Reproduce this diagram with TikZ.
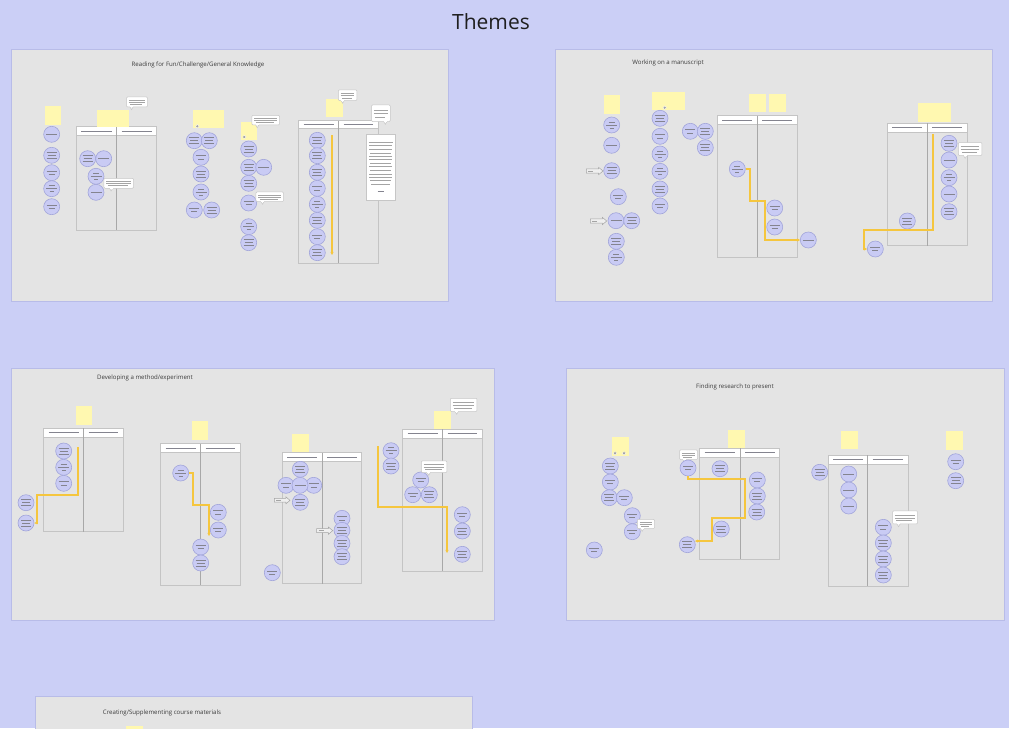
\documentclass[tikz,border=0pt]{standalone}
\usepackage{fontspec}
\setmainfont{Open Sans}
\usetikzlibrary{arrows.meta}
\definecolor{bg}{HTML}{CBCFF6}
\definecolor{pan}{HTML}{E4E4E4}
\definecolor{panb}{HTML}{B8BCE8}
\definecolor{cfill}{HTML}{C9CBF4}
\definecolor{cbord}{HTML}{A2A5DA}
\definecolor{tline}{HTML}{84848F}
\definecolor{lline}{HTML}{A4A4A4}
\definecolor{stk}{HTML}{FFF8B0}
\definecolor{tbb}{HTML}{C4C4C4}
\definecolor{tdiv}{HTML}{A8A8A8}
\definecolor{ylw}{HTML}{F5C63E}
\definecolor{bubb}{HTML}{C6C6C6}
\definecolor{ttl}{HTML}{3A3A3A}
\tikzset{
  cir/.style={circle, minimum size=16pt, inner sep=0pt, fill=cfill, draw=cbord, line width=0.6pt},
  tl/.style={draw=tline, line width=0.75pt},
  bl/.style={draw=lline, line width=0.7pt},
  stkn/.style={fill=stk, draw=none, inner sep=0pt},
  bubn/.style={fill=white, draw=bubb, line width=0.5pt, rounded corners=1pt, inner sep=0pt},
  docn/.style={fill=white, draw=bubb, line width=0.6pt, inner sep=0pt},
  panel/.style={fill=pan, draw=panb, line width=0.9pt, inner sep=0pt},
  ptitle/.style={font=\fontsize{6.1}{7}\selectfont, text=ttl, inner sep=0pt},
  yc/.style={draw=ylw, line width=1.12pt, -{Stealth[length=3pt,width=3pt]}},
  icn/.style={circle, fill=lline, draw=white, line width=0.3pt, minimum size=3.6pt, inner sep=0pt},
  arw/.style={fill=pan!60!white, draw=lline, line width=0.5pt},
}
\newcommand\Cir[4]{%
  \node[cir] (#1) at (#2,#3) {};
  \begin{scope}[shift={(#2,#3)}]
  \ifcase#4\relax
    \draw[tl] (-5,-1.5)--(5,-1.5); \draw[tl] (-3,1.8)--(3,1.8);
  \or
    \draw[tl] (-5,-3)--(5,-3); \draw[tl] (-4,0)--(4,0); \draw[tl] (-5,3)--(5,3);
  \or
    \draw[tl] (-5.5,0)--(5.5,0);
  \or
    \draw[tl] (-3,-3)--(3,-3); \draw[tl] (-5.5,0)--(5.5,0); \draw[tl] (-2,3)--(2,3);
  \fi
  \end{scope}}
\newcommand\Stk[5]{%
  \node[stkn, anchor=north west, minimum width={#4pt-#2pt}, minimum height={#5pt-#3pt}] (#1) at (#2,#3) {};}
\newcommand\Tbl[7]{%
  \draw[draw=tbb, line width=1pt] (#2,#3) rectangle (#4,#5);
  \filldraw[fill=white, draw=tbb, line width=0.6pt] (#2,#3) rectangle (#4,#6);
  \draw[draw=tdiv, line width=0.8pt] (#7,#3) -- (#7,#5);
  \draw[tl] ({#2+5},{(#3+#6)/2}) -- ({#7-5},{(#3+#6)/2});
  \draw[tl] ({#7+5},{(#3+#6)/2}) -- ({#4-5},{(#3+#6)/2});
  \coordinate (#1) at ({(#2+#4)/2},{(#3+#5)/2});}
\newcommand\Bub[6]{%
  \pgfmathsetmacro\bx{#2+(#4-#2)*#6}%
  \filldraw[fill=white, draw=bubb, line width=0.5pt] ({\bx-2},{#5-0.5}) -- (\bx,{#5+3}) -- ({\bx+2},{#5-0.5});
  \node[bubn, anchor=north west, minimum width={#4pt-#2pt}, minimum height={#5pt-#3pt}] (#1) at (#2,#3) {};
  \draw[white, line width=0.8pt] ({\bx-1.5},#5) -- ({\bx+1.5},#5);
  \draw[bl] ({#2+2.5},{#3+(#5-#3)*0.33}) -- ({#4-2.5},{#3+(#5-#3)*0.33});
  \draw[bl] ({#2+2.5},{#3+(#5-#3)*0.55}) -- ({#4-2.5},{#3+(#5-#3)*0.55});
  \draw[bl] ({#2+4},{#3+(#5-#3)*0.77}) -- ({#4-5},{#3+(#5-#3)*0.77});}
\newcommand\Arw[5]{%
  \pgfmathsetmacro\am{(#3+#5)/2}%
  \pgfmathsetmacro\ah{(#5-#3)}%
  \pgfmathsetmacro\ax{#4-0.6*\ah}%
  \filldraw[arw] (#2,{\am-0.28*\ah}) -- (\ax,{\am-0.28*\ah}) -- (\ax,#3) -- (#4,\am) -- (\ax,#5) -- (\ax,{\am+0.28*\ah}) -- (#2,{\am+0.28*\ah}) -- cycle;
  \draw[bl] ({#2+2},\am) -- ({#2+7},\am);
  \coordinate (#1) at (#4,\am);}
\begin{document}
\begin{tikzpicture}[x=1pt,y=-1pt]
\useasboundingbox (0,0) rectangle (1009,728);
\fill[bg] (0,0) rectangle (1009,728);
\clip (0,0) rectangle (1009,728);
\node[font=\fontsize{21}{24}\selectfont, text=black!88] (title) at (491,21.5) {Themes};

% ---------------- Panel 1
\node[panel, anchor=north west, minimum width=437pt, minimum height=252pt] (p1) at (11,49) {};
\node[ptitle] (p1t) at (198,65) {Reading for Fun/Challenge/General Knowledge};
\Stk{s11}{45}{106}{61}{125}
\Cir{a1}{51.7}{134.3}{2}
\Cir{a2}{51.7}{155.3}{1}
\Cir{a3}{51.7}{172.7}{0}
\Cir{a4}{51.7}{188.7}{3}
\Cir{a5}{51.7}{206.7}{0}
\Tbl{t11}{76.3}{126.7}{156.7}{230}{135.3}{116.7}
\Stk{s12}{96.7}{109.7}{129}{126.3}
\Bub{b11}{126.3}{96.7}{147.3}{106.7}{0.25}
\Cir{a6}{87.7}{158.7}{1}
\Cir{a7}{103.7}{158.7}{2}
\Cir{a8}{96}{176.3}{3}
\Cir{a9}{96}{192.3}{2}
\Bub{b12}{103.7}{178}{133.3}{188}{0.25}
\Stk{s13}{193}{109.7}{224}{128}
\node[icn] (i11) at (197.3,126.3) {};
\Cir{a10}{194.3}{140.7}{1}
\Cir{a11}{209.3}{140.7}{1}
\Cir{a12}{201}{157.3}{0}
\Cir{a13}{201}{174}{1}
\Cir{a14}{201}{192}{3}
\Cir{a15}{194.3}{210}{0}
\Cir{a16}{211.7}{210}{1}
\Stk{s14}{240.7}{121.3}{257}{139.7}
\node[icn] (i12) at (244.3,137) {};
\Bub{b13}{251.7}{115}{279.3}{124.7}{0.2}
\Cir{a17}{248.7}{149}{1}
\Cir{a18}{248.7}{167.3}{1}
\Cir{a19}{263.7}{167.3}{2}
\Cir{a20}{248.7}{183.3}{1}
\Cir{a21}{248.7}{203}{0}
\Bub{b14}{255.7}{191.7}{283.3}{201.3}{0.25}
\Cir{a22}{248.7}{226.7}{3}
\Cir{a23}{248.7}{242.7}{1}
\Tbl{t12}{298.7}{120.7}{378.3}{263.3}{128.7}{338.7}
\Stk{s15}{326}{98.3}{342.7}{117}
\Bub{b15}{338}{89.7}{356.7}{100.3}{0.25}
\Bub{b16}{371.3}{104.7}{390}{121.3}{0.75}
\Cir{a24}{317.3}{140.3}{1}
\Cir{a25}{317.3}{155.7}{1}
\Cir{a26}{317.3}{172.3}{1}
\Cir{a27}{317.3}{188.3}{0}
\Cir{a28}{317.3}{204.3}{3}
\Cir{a29}{317.3}{220.3}{1}
\Cir{a30}{317.3}{236.7}{0}
\Cir{a31}{317.3}{252.7}{1}
\coordinate (y1s) at (332,135);
\coordinate (y1e) at (332,255);
\draw[yc] (y1s) -- (y1e);
\node[docn, anchor=north west, minimum width=29.6pt, minimum height=66.6pt] (d11) at (365.7,133.7) {};
\foreach \yy/\xa/\xb in {142.3/368.5/392.5, 145.7/369/392, 149.7/369/392, 153/370/391, 156.3/369/392, 159.7/369/392, 163/370/391, 166.7/369/392, 170.7/370/391, 174/369/392, 177.3/369/392, 180.7/370/391, 184/371/390}
  \draw[bl] (\xa,\yy) -- (\xb,\yy);
\draw[tl] (377.5,191.3) -- (383.5,191.3);

% ---------------- Panel 2
\node[panel, anchor=north west, minimum width=437pt, minimum height=252pt] (p2) at (555,49) {};
\node[ptitle] (p2t) at (668,63) {Working on a manuscript};
\Stk{s21}{603.3}{95}{620}{113.7}
\Cir{b1}{611.7}{125}{3}
\Cir{b2}{611.7}{145.3}{2}
\Cir{b3}{611.7}{170.7}{1}
\Cir{b4}{618.3}{196.7}{0}
\Cir{b5}{616}{220.7}{2}
\Cir{b6}{631.7}{220.7}{1}
\Cir{b7}{616.3}{241.3}{1}
\Cir{b8}{616.3}{257.3}{3}
\Arw{w21}{586.3}{167.3}{603}{174.7}
\Arw{w22}{590.3}{217.3}{606.7}{224.7}
\Stk{s22}{651.7}{91.3}{685}{109.7}
\node[icn] (i21) at (664.7,107.7) {};
\Cir{b9}{660}{118.3}{1}
\Cir{b10}{660}{136.3}{0}
\Cir{b11}{660}{154}{3}
\Cir{b12}{660}{171.3}{3}
\Cir{b13}{660}{189}{1}
\Cir{b14}{660}{206}{0}
\Cir{b15}{690.3}{131.3}{0}
\Cir{b16}{705.3}{131.3}{1}
\Cir{b17}{705.3}{147.7}{1}
\Stk{s23}{749}{93.3}{765.3}{112}
\Stk{s24}{769}{93.3}{785.3}{112}
\Tbl{t21}{717.3}{115.7}{797}{257.3}{124.3}{757.3}
\Cir{b18}{737.3}{169}{3}
\Cir{b19}{774.7}{208}{0}
\Cir{b20}{774.7}{227}{0}
\Cir{b21}{808.3}{240}{2}
\coordinate (k21) at (750,169);
\coordinate (k22) at (750,201);
\coordinate (k23) at (765,201);
\draw[yc] (b18.east) -- (k21) -- (k22) -- (k23) |- (b21.west);
\Stk{s25}{917.3}{103}{950.7}{121.3}
\Tbl{t22}{887.3}{123.3}{967.3}{245.7}{132}{927.3}
\Cir{b22}{949}{143.3}{1}
\Cir{b23}{949}{160}{2}
\Cir{b24}{949}{177.7}{3}
\Cir{b25}{949}{194}{2}
\Cir{b26}{949}{211.7}{1}
\Bub{b27}{958}{142.3}{981.7}{155.3}{0.3}
\Cir{b28}{907.3}{221}{1}
\Cir{b29}{875.3}{249}{0}
\coordinate (k24) at (933,134);
\coordinate (k25) at (933,230);
\coordinate (k26) at (864,230);
\draw[yc] (k24) -- (k25) -- (k26) |- (b29.west);

% ---------------- Panel 3
\node[panel, anchor=north west, minimum width=483pt, minimum height=252pt] (p3) at (11,368) {};
\node[ptitle] (p3t) at (145,377.5) {Developing a method/experiment};
\Stk{s31}{75.7}{406}{92}{424.7}
\Tbl{t31}{43.7}{428.3}{123.3}{531.7}{437}{83.7}
\Cir{c1}{63.7}{451}{1}
\Cir{c2}{63.7}{467.3}{3}
\Cir{c3}{63.7}{483.3}{0}
\Cir{c4}{26}{502.7}{1}
\Cir{c5}{26}{523}{1}
\coordinate (k31) at (78,447);
\coordinate (k32) at (78,495);
\coordinate (k33) at (37,495);
\draw[yc] (k31) -- (k32) -- (k33) |- (c5.east);
\Stk{s32}{191.7}{421}{208}{439.7}
\Tbl{t32}{160.7}{443.7}{240.3}{585}{452.3}{200.7}
\Cir{c6}{180.7}{473}{3}
\Cir{c7}{218.3}{512.3}{0}
\Cir{c8}{218.3}{530}{0}
\Cir{c9}{200.7}{547}{0}
\Cir{c10}{200.7}{563}{1}
\coordinate (k34) at (193,473);
\coordinate (k35) at (193,505);
\coordinate (k36) at (209,505);
\coordinate (k37) at (209,536);
\draw[yc] (c6.east) -- (k34) -- (k35) -- (k36) -- (k37);
\Stk{s33}{292}{434}{308.3}{452.7}
\Tbl{t33}{282}{452.7}{361.7}{583.7}{461.3}{322}
\Cir{c11}{300.3}{469.3}{1}
\Cir{c12}{286}{485.3}{0}
\Cir{c13}{313.7}{485.3}{0}
\Cir{c14}{300}{485.3}{2}
\Cir{c15}{300.3}{502.3}{1}
\Arw{w31}{274.3}{497}{290}{503.7}
\Cir{c16}{342}{518.3}{0}
\Cir{c17}{342}{530.3}{1}
\Cir{c18}{342}{543.3}{1}
\Cir{c19}{342}{556.7}{1}
\Arw{w32}{316.7}{527}{332.7}{534.3}
\Cir{c20}{272.3}{572.7}{0}
\Stk{s34}{434}{410.7}{450.7}{429.3}
\Bub{b31}{450}{398}{476.7}{411.3}{0.25}
\Tbl{t34}{402.7}{429.3}{482.3}{571}{438}{442.7}
\Cir{c21}{391}{450.7}{3}
\Cir{c22}{391}{466}{1}
\Cir{c23}{420.7}{480}{0}
\Cir{c24}{412.7}{494.7}{0}
\Cir{c25}{429.3}{494.7}{1}
\Bub{b32}{421}{460.7}{446.7}{472.3}{0.3}
\Cir{c26}{462.3}{514.7}{0}
\Cir{c27}{462.3}{531}{1}
\Cir{c28}{462.3}{554.3}{1}
\coordinate (k38) at (378,446);
\coordinate (k39) at (378,507);
\coordinate (k40) at (447,507);
\coordinate (k41) at (447,553);
\draw[yc] (k38) -- (k39) -- (k40) -- (k41);

% ---------------- Panel 4
\node[panel, anchor=north west, minimum width=438pt, minimum height=252pt] (p4) at (566,368) {};
\node[ptitle] (p4t) at (735,386.7) {Finding research to present};
\Stk{s41}{612}{436.7}{628.7}{455.3}
\node[icn] (i41) at (615,453.3) {};
\node[icn] (i42) at (624,453.3) {};
\Cir{d1}{610.3}{466}{1}
\Cir{d2}{610.3}{482}{0}
\Cir{d3}{609.3}{497.7}{1}
\Cir{d4}{624.3}{497.7}{0}
\Cir{d5}{632.3}{515.7}{0}
\Cir{d6}{632.3}{531.7}{0}
\Bub{b41}{637}{519}{654.3}{528.3}{0.3}
\Cir{d7}{594.3}{550}{0}
\Stk{s42}{728}{429.3}{744.3}{447.7}
\Tbl{t41}{699.7}{448}{779.7}{559.3}{457}{740}
\Bub{b42}{679.3}{449.7}{697.3}{459.3}{0.3}
\Cir{d8}{688}{468}{0}
\Cir{d9}{720}{468.7}{1}
\Cir{d10}{757.3}{480}{0}
\Cir{d11}{757.3}{496}{1}
\Cir{d12}{756.7}{512}{1}
\Cir{d13}{721.3}{529}{1}
\Cir{d14}{687.3}{544.7}{1}
\coordinate (k42) at (745,479);
\coordinate (k43) at (745,518);
\coordinate (k44) at (712,518);
\coordinate (k45) at (712,541);
\coordinate (k46) at (695,541);
\draw[yc] (d8.south) |- (k42) -- (k43) -- (k44) -- (k45) -- (k46);
\Stk{s43}{840.7}{430.3}{857.3}{449}
\Tbl{t42}{828}{455.3}{908}{586.3}{464.3}{867.7}
\Cir{d15}{819.7}{472.3}{1}
\Cir{d16}{848.7}{474}{2}
\Cir{d17}{848.7}{490}{2}
\Cir{d18}{848.7}{506}{2}
\Cir{d19}{883.3}{527.3}{0}
\Cir{d20}{883.3}{543}{1}
\Cir{d21}{883.3}{559}{1}
\Cir{d22}{883.3}{575}{1}
\Bub{b43}{892.3}{510.7}{917.3}{523.7}{0.25}
\Stk{s44}{946}{431}{962.7}{449.7}
\Cir{d23}{955.7}{461.7}{0}
\Cir{d24}{955.7}{480.7}{1}

% ---------------- Panel 5
\node[panel, anchor=north west, minimum width=437pt, minimum height=60pt] (p5) at (34.7,696.3) {};
\node[ptitle] (p5t) at (162,712.7) {Creating/Supplementing course materials};
\Stk{s51}{126}{725.7}{142.7}{745}
\end{tikzpicture}
\end{document}
